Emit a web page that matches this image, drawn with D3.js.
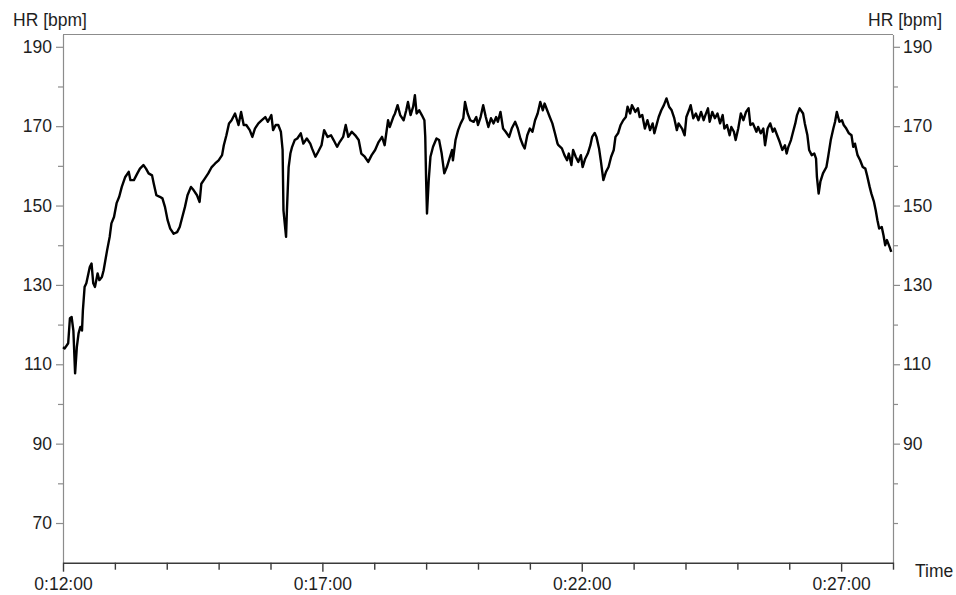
<!DOCTYPE html>
<html><head><meta charset="utf-8">
<script src="https://cdn.jsdelivr.net/npm/d3@7"></script>
<style>
body{margin:0;background:#fff}
svg{display:block}
text{font-family:"Liberation Sans",Arial,Helvetica,sans-serif;fill:#1e1e1e}
</style>
</head><body><svg id="c" width="956" height="595"></svg>
<script>
// time in seconds (0:12:00 = 720 s)
const timeSec = [
 720,722,726,728,730,732,734,736,738,740,742,743,745,747,751,753,755,757,760,762,
 765,767,769,771,774,776,779,782,785,788,792,796,798,802,806,809,813,816,819,823,
 825,828,832,835,838,841,844,848,852,855,858,861,864,868,871,875,878,880,884,888,
 892,896,900,904,906,909,912,
 915,919,923,926,929,932,936,939,942,946,950,954,957,961,963,966,969,972,974,975,
 978,979,981,983,985,988,991,995,998,1002,1006,1008,1012,1015,1019,1022,1026,1030,1033,1037,
 1040,1044,1047,1050,1054,1058,1062,1065,1069,1073,1077,1081,1085,1089,1092,1096,1098,1102,
 1104,1107,1110,1114,1117,1119,1122,1125,1127,1129,1132,1135,1138,1139,1140,1141,1143,1145,1148,1152,
 1155,1158,1161,1164,1167,1170,1171,1174,1177,1180,1183,1185,1188,1191,1195,1198,1200,1203,1206,1209,
 1212,1215,1218,1221,1223,1226,1229,1232,1236,1239,1243,1246,1249,1252,1254,1257,1260,1263,1266,1269,
 1272,1275,1277,1280,1283,1286,1289,1292,
 1293,1297,1300,1303,1305,1308,1310,1313,1316,1319,1321,1324,1327,1330,1332,1335,1337,1340,1342,1345,
 1348,1351,1354,1357,1359,1362,1365,1368,1371,1373,1376,1378,1382,1385,1387,1390,1393,1396,1399,1402,
 1404,1407,1409,1412,1415,1418,1421,1424,1427,1430,1432,1436,1439,1441,1444,1446,1449,1452,1455,1458,
 1461,1463,1466,1468,1471,1474,1477,1480,1483,1485,
 1488,1491,1493,1496,1498,1501,1504,1507,1510,1513,1515,1518,1522,1524,1527,1530,1532,1535,1538,1541,
 1543,1546,1549,1552,1555,1557,1559,1562,1564,1567,1569,1572,1576,1578,1581,1583,1586,1589,1591,1592,
 1594,1596,1599,1603,1605,1608,1611,1613,1615,1618,1621,1623,1626,1629,1632,1634,1636,1639,1642,1645,
 1648,1650,1653,1655,1658,1660,1662,1664,1667,1669,1671,1673,1676,1678
];
// heart rate in bpm
const heartRate = [
 114.3,114,115.3,121.6,121.9,118.5,107.7,114.3,117.8,119.4,118.5,123.6,129.5,130.4,134.5,135.4,130.4,129.5,132.9,131.2,
 132,133.7,136.2,138.7,142.1,145.5,147.1,150.6,152.2,154.7,157.2,158.5,156.4,156.4,158.1,159.3,160.2,159.3,158.1,157.6,
 155.5,152.6,152.2,151.8,149.6,146.3,144.2,142.9,143.3,144.6,147.1,149.6,152.6,154.7,153.9,152.6,150.9,155.5,156.8,158.1,
 159.7,160.6,161.4,162.7,165.2,167.7,170.7,
 171.5,173.2,170.3,173.6,170.3,170.3,169,167.3,169.4,170.7,171.5,172.3,171.1,172.8,169,170.3,170.3,168.6,164,148.8,
 142.1,148.8,159.7,163.1,164.8,166.5,166.9,168.2,165.6,166.9,165.6,164.4,162.3,163.5,165.2,169,167.3,167.7,166.5,164.8,
 166,167.3,170.3,167.3,168.6,167.7,166.5,163.1,162.3,161,162.7,164,166,167.3,165.2,171.5,169.8,172.3,
 173.2,175.3,172.8,171.5,174,176.1,172.8,174.9,177.8,173.2,174,172.8,171.5,167.3,156.4,148,156.4,162.3,164.8,166.9,
 166.5,163.1,158.1,159.7,161.8,164,161.4,166.5,169,170.7,172,176.1,173.2,171.5,171.1,172.3,170.3,172.3,175.3,172.3,
 169.8,172,170.7,172.3,171.1,173.6,169.4,168.6,167.3,169.4,171.1,169.4,166.9,165.2,164.4,167.7,169.4,168.6,171.5,173.2,
 176.1,174,175.7,174,172.3,170.7,168.2,165.6,
 165.2,164.4,162.7,161.4,163.1,160.2,164,162.3,161,162.7,159.7,161.8,163.1,165.2,167.3,168.3,167.3,164.4,161.4,156.4,
 158.5,159.7,162.3,164,167.3,168.2,170.3,171.5,172.3,174.9,173.2,175.3,173.6,174.5,172.3,172.8,169.4,171.5,169,170.7,
 168.2,170.7,172.3,174,175.3,177,174.9,174,172,169,170.7,169.4,167.7,172.3,174,175.3,172,173.2,171.5,173.6,
 171.5,172.8,174.5,171.1,173.6,172,173.2,170.7,172.8,169.4,
 170.3,167.7,169.8,168.6,166.5,169.4,173.2,171.5,173.6,174.5,170.3,170.7,168.6,169.8,168.2,169.4,165.2,169.4,170.7,168.6,
 169.4,167.7,166,164,165.2,163.1,164.8,166.5,168.2,170.7,172.8,174.5,173.2,170.7,167.7,164,162.7,163.1,161.8,157.2,
 153,156,158.1,159.7,162.3,166.5,169.4,171.1,173.6,171.1,171.5,170.3,169.4,168.2,167.7,164.8,165.6,162.7,161.4,159.7,
 159.3,157.6,154.7,153,150.9,148.8,146.3,144.2,144.6,142.5,140,141.3,139.6,138.3
];

const yLeftLabelTicks = [70, 90, 110, 130, 150, 170, 190];
const yRightLabelTicks = [90, 110, 130, 150, 170, 190];
const yLeftMinorTicks = [80, 100, 120, 140, 160, 180];
const yRightMinorTicks = [70, 80, 100, 120, 140, 160, 180];
const xMajorTicks = [720, 1020, 1320, 1620];          // 0:12:00, 0:17:00, 0:22:00, 0:27:00
const xMinorTicks = [780, 840, 900, 960, 1080, 1140, 1200, 1260, 1380, 1440, 1500, 1560, 1680];
const xDomain = [720, 1680];
const yDomain = [60, 193.1];
const yTitle = "HR [bpm]";
const xTitle = "Time";

const svg = d3.select("#c");
const L = 63, R = 893, T = 34.5, B = 562.7;
const FS = "17.5px";
const x = d3.scaleLinear().domain(xDomain).range([L, R]);
const y = d3.scaleLinear().domain(yDomain).range([B, T]);

const fmtTime = s => {
  const m = Math.floor(s / 60), sec = s % 60;
  return `0:${String(m).padStart(2, "0")}:${String(sec).padStart(2, "0")}`;
};

function styleAxis(g, color, width) {
  g.selectAll("path.domain").attr("stroke", color).attr("stroke-width", width);
  g.selectAll(".tick line").attr("stroke", color).attr("stroke-width", width);
  g.selectAll(".tick text").style("font-size", FS).attr("fill", "#1e1e1e");
}

// top border
svg.append("line").attr("x1", L).attr("x2", R).attr("y1", T).attr("y2", T)
  .attr("stroke", "#8c8c8c").attr("stroke-width", 1.2);

// left axis
const gl = svg.append("g").attr("transform", `translate(${L},0)`)
  .call(d3.axisLeft(y).tickValues(yLeftLabelTicks).tickSize(7).tickSizeOuter(0).tickPadding(4).tickFormat(d3.format("d")));
styleAxis(gl, "#8c8c8c", 1.2);
const glm = svg.append("g").attr("transform", `translate(${L},0)`)
  .call(d3.axisLeft(y).tickValues(yLeftMinorTicks).tickSize(5).tickSizeOuter(0).tickFormat(""));
styleAxis(glm, "#8c8c8c", 1.2);
glm.select("path.domain").remove();

// right axis
const gr = svg.append("g").attr("transform", `translate(${R},0)`)
  .call(d3.axisRight(y).tickValues(yRightLabelTicks).tickSize(7).tickSizeOuter(0).tickPadding(3).tickFormat(d3.format("d")));
styleAxis(gr, "#8c8c8c", 1.2);
const grm = svg.append("g").attr("transform", `translate(${R},0)`)
  .call(d3.axisRight(y).tickValues(yRightMinorTicks).tickSize(5).tickSizeOuter(0).tickFormat(""));
styleAxis(grm, "#8c8c8c", 1.2);
grm.select("path.domain").remove();

// bottom axis
const gb = svg.append("g").attr("transform", `translate(0,${B})`)
  .call(d3.axisBottom(x).tickValues(xMajorTicks).tickSize(9).tickSizeOuter(0).tickPadding(6).tickFormat(fmtTime));
styleAxis(gb, "#3a3a3a", 1.4);
gb.selectAll(".tick text").attr("fill", "#444");
const gbm = svg.append("g").attr("transform", `translate(0,${B})`)
  .call(d3.axisBottom(x).tickValues(xMinorTicks).tickSize(7).tickSizeOuter(0).tickFormat(""));
styleAxis(gbm, "#3a3a3a", 1.4);
gbm.select("path.domain").remove();

// titles
svg.append("text").attr("x", 13).attr("y", 26).style("font-size", FS).text(yTitle);
svg.append("text").attr("x", 942).attr("y", 26).attr("text-anchor", "end").style("font-size", FS).text(yTitle);
svg.append("text").attr("x", 915).attr("y", 577).style("font-size", FS).text(xTitle);

// HR trace
const pts = timeSec.map((t, i) => [t, heartRate[i]]);
svg.append("path").datum(pts)
  .attr("fill", "none").attr("stroke", "#000").attr("stroke-width", 2.4)
  .attr("stroke-linejoin", "round")
  .attr("d", d3.line().x(d => x(d[0])).y(d => y(d[1])));
</script>
</body></html>
